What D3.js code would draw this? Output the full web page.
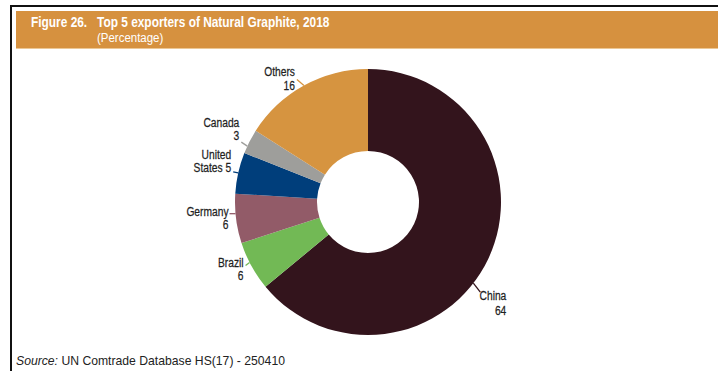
<!DOCTYPE html>
<html>
<head>
<meta charset="utf-8">
<script src="https://cdn.jsdelivr.net/npm/d3@7"></script>
<style>
  html, body { margin: 0; padding: 0; background: #fff; }
  svg { display: block; }
</style>
</head>
<body>
<svg id="chart" width="718" height="371"></svg>
<script>
// Exporters of natural graphite, share of exports in 2018 (%)
const countries = ["China", "Brazil", "Germany", "United States", "Canada", "Others"];
const shares    = [64, 6, 6, 5, 3, 16];
const colors    = ["#33141c", "#72b955", "#925b68", "#003e7b", "#9e9e9b", "#d69440"];

// Label text lines ({v} is replaced by the share)
const labelLines = [
  ["China", "{v}"],
  ["Brazil", "{v}"],
  ["Germany", "{v}"],
  ["United", "States {v}"],
  ["Canada", "{v}"],
  ["Others", "{v}"]
];
// Leader placement: position inside the slice (0..1), leader end offset, text offsets
const labelLayout = [
  { frac: 0.554, end: [7, 9],   tx: 26, ty: [8, 23] },
  { frac: 0.58,  end: [-4, 3],  tx: -2, ty: [1, 14] },
  { frac: 0.6,   end: [-6, 0],  tx: -1, ty: [2, 15] },
  { frac: 0.5,   end: [-5, -1], tx: -2, ty: [-13, 0] },
  { frac: 0.3,   end: [-6, -4], tx: -2, ty: [-15, -2] },
  { frac: 0.5,   end: [-7, -6], tx: -2, ty: [-3, 11] }
];

const W = 718, H = 371;
const cx = 368, cy = 202, outerR = 133, innerR = 51;
const sans = "'Liberation Sans', Arial, Helvetica, sans-serif";

const svg = d3.select("#chart");

// Text drawn horizontally condensed
function narrowText(parent, x, y, str, opts = {}) {
  const t = parent.append("text")
    .attr("transform", `translate(${x},${y}) scale(${opts.squeeze || 0.82},1)`)
    .attr("text-anchor", opts.anchor || "start")
    .attr("font-family", sans)
    .attr("font-weight", opts.weight || "normal")
    .attr("font-size", opts.size || 12.5)
    .attr("fill", opts.fill || "#1f1f1f")
    .text(str);
  if (opts.heavy) t.attr("stroke", opts.fill || "#1f1f1f").attr("stroke-width", 0.25);
  return t;
}

// Frame: top rule and left rule
svg.append("line").attr("x1", 10).attr("x2", W).attr("y1", 6).attr("y2", 6)
  .attr("stroke", "#111").attr("stroke-width", 2);
svg.append("line").attr("x1", 11).attr("x2", 11).attr("y1", 5).attr("y2", H)
  .attr("stroke", "#111").attr("stroke-width", 2);

// Title band
svg.append("rect").attr("x", 16).attr("y", 11).attr("width", W - 16).attr("height", 37)
  .attr("fill", "#d6913f");
svg.append("line").attr("x1", 16).attr("x2", W).attr("y1", 48.5).attr("y2", 48.5)
  .attr("stroke", "#ecc795").attr("stroke-width", 1);

narrowText(svg, 31, 27, "Figure 26.", { weight: "bold", size: 14, squeeze: 0.85, fill: "#fff" });
narrowText(svg, 97, 27, "Top 5 exporters of Natural Graphite, 2018", { weight: "bold", size: 14, squeeze: 0.85, fill: "#fff" });
narrowText(svg, 97, 41.5, "(Percentage)", { size: 13.5, squeeze: 0.85, fill: "#fff" });

// Donut
const data = countries.map((c, i) => ({ name: c, value: shares[i], color: colors[i], lines: labelLines[i], layout: labelLayout[i] }));
const pie = d3.pie().sort(null).value(d => d.value);
const arcs = pie(data);
const arc = d3.arc().innerRadius(innerR).outerRadius(outerR);

const g = svg.append("g").attr("transform", `translate(${cx},${cy})`);
g.selectAll("path.slice").data(arcs).join("path")
  .attr("class", "slice")
  .attr("d", arc)
  .attr("fill", d => d.data.color);

// Leaders and labels
arcs.forEach(a => {
  const L = a.data.layout;
  const ang = a.startAngle + (a.endAngle - a.startAngle) * L.frac;
  const x0 = Math.sin(ang) * outerR, y0 = -Math.cos(ang) * outerR;
  const x1 = x0 + L.end[0], y1 = y0 + L.end[1];
  g.append("line").attr("x1", x0).attr("y1", y0).attr("x2", x1).attr("y2", y1)
    .attr("stroke", a.data.color).attr("stroke-width", 1.3);
  a.data.lines.forEach((ln, k) => {
    narrowText(g, x1 + L.tx, y1 + L.ty[k], ln.replace("{v}", a.data.value), { anchor: "end", heavy: true });
  });
});

// Source note
const src = svg.append("text").attr("x", 16).attr("y", 365)
  .attr("font-family", sans).attr("font-size", 12.2)
  .attr("fill", "#222");
src.append("tspan").attr("font-style", "italic").text("Source:");
src.append("tspan").text(" UN Comtrade Database HS(17) - 250410");
</script>
</body>
</html>
